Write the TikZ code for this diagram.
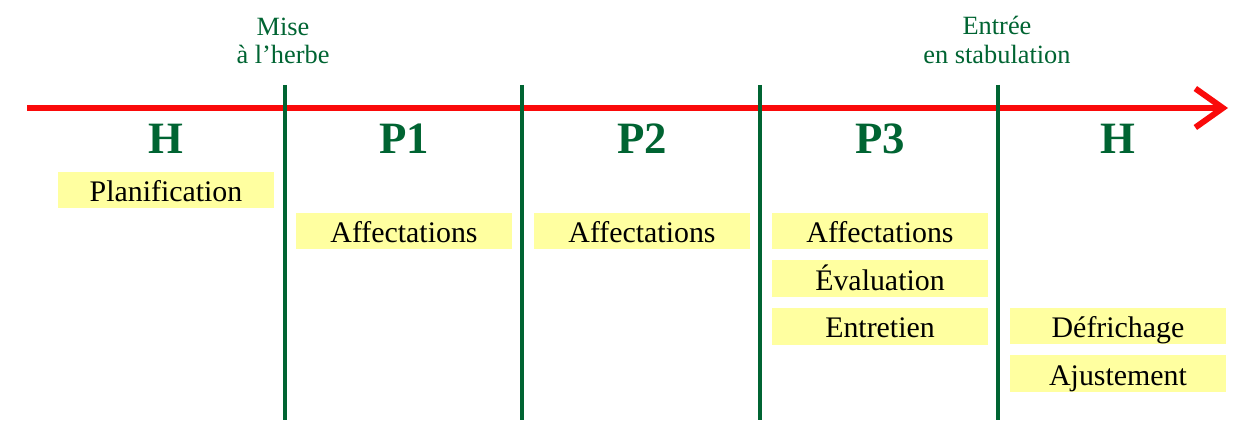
\documentclass[tikz,border=0pt]{standalone}
\usepackage{fontspec}
\setmainfont{Liberation Serif}
\usetikzlibrary{arrows.meta, positioning}

\definecolor{prairie}{RGB}{0,100,50}
\definecolor{axe}{RGB}{250,10,10}
\definecolor{jaune}{RGB}{255,255,160}

\begin{document}
\begin{tikzpicture}[
  x=0.02cm, y=-0.02cm,
  node distance=0.2cm,
  phase/.style={text=prairie, inner sep=0pt, font=\fontsize{25.5}{28}\selectfont\bfseries},
  event/.style={text=prairie, inner sep=0pt, align=center, font=\fontsize{15}{16}\selectfont},
  task/.style={fill=jaune, inner sep=0pt, minimum width=4.34cm, minimum height=0.74cm,
               text height=14.5pt, text depth=1.5pt, font=\fontsize{17}{20}\selectfont},
  axis/.style={draw=axe, line width=3.4pt, -{Straight Barb[length=0.55cm, width=0.78cm]}},
  limit/.style={draw=prairie, line width=2.3pt}
]
\useasboundingbox (0,0) rectangle (1252,439);

% time axis
\coordinate (start) at (27,108);
\coordinate (end)   at (1228,108);
\draw[axis] (start) -- (end);

% phase limits
\foreach \i/\x in {1/285, 2/522, 3/760, 4/998} {
  \coordinate (lim\i a) at (\x,85);
  \coordinate (lim\i b) at (\x,420);
  \draw[limit] (lim\i a) -- (lim\i b);
}

% events
\node[event] (mise)   at (283,41) {Mise\\à l’herbe};
\node[event] (entree) at (997,40) {Entrée\\en stabulation};

% phases
\node[phase] (h1) at (166,139)  {H};
\node[phase] (p1) at (404,139)  {P1};
\node[phase] (p2) at (642,139)  {P2};
\node[phase] (p3) at (880,139)  {P3};
\node[phase] (h2) at (1118,139) {H};

% tasks
\node[task] (plan)   at (166,190)  {Planification};
\node[task] (aff1)   at (404,231)  {Affectations};
\node[task] (aff2)   at (642,231)  {Affectations};
\node[task] (aff3)   at (880,231)  {Affectations};
\node[task, below=of aff3] (eval)  {Évaluation};
\node[task, below=of eval] (entr)  {Entretien};
\node[task] (defr)   at (1118,326) {Défrichage};
\node[task, below=of defr] (ajus)  {Ajustement};

\end{tikzpicture}
\end{document}
